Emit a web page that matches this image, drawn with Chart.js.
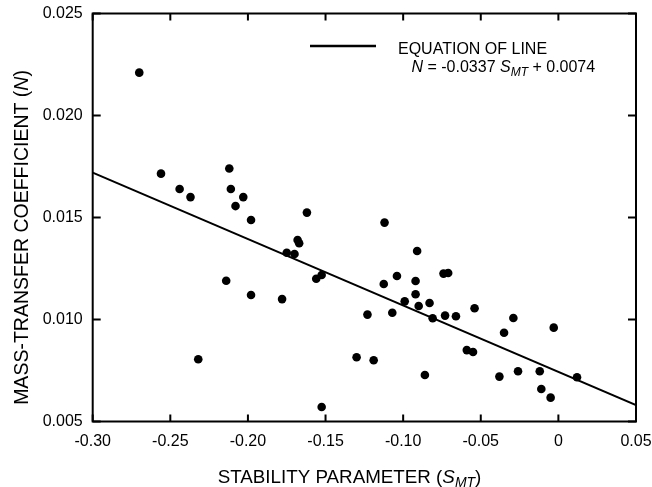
<!DOCTYPE html>
<html>
<head>
<meta charset="utf-8">
<script src="https://cdn.jsdelivr.net/npm/chart.js@4/dist/chart.umd.min.js"></script>
<style>
  body { margin: 0; background: #fff; }
  canvas { display: block; }
</style>
</head>
<body>
<canvas id="chart" width="652" height="487"></canvas>
<script>
const FONT = '"Liberation Sans", Arial, sans-serif'

// measured points (stability parameter, mass-transfer coefficient)
const stability = [
  -0.270, -0.256, -0.244, -0.237, -0.212, -0.211, -0.203, -0.208, -0.162, -0.198,
  -0.168, -0.167, -0.175, -0.170, -0.1525, -0.156, -0.214, -0.198, -0.178, -0.232,
  -0.130, -0.1525, -0.112, -0.091, -0.104, -0.1125, -0.092, -0.074, -0.071, -0.092,
  -0.099, -0.090, -0.083, -0.107, -0.123, -0.081, -0.073, -0.066, -0.054, -0.029,
  -0.003, -0.035, -0.059, -0.055, -0.119, -0.086, -0.038, -0.026, -0.012, 0.012,
  -0.011, -0.005
]
const massTransfer = [
  0.0221, 0.01715, 0.0164, 0.0160, 0.0174, 0.0164, 0.0160, 0.01556, 0.01524, 0.01488,
  0.0139, 0.01374, 0.01327, 0.01321, 0.01218, 0.0120, 0.0119, 0.0112, 0.0110, 0.00805,
  0.00815, 0.00571, 0.01475, 0.01336, 0.01213, 0.01174, 0.01189, 0.01225, 0.01228, 0.01124,
  0.01089, 0.01066, 0.01081, 0.01033, 0.01024, 0.01006, 0.01019, 0.01016, 0.01055, 0.01007,
  0.0096, 0.00935, 0.0085, 0.00841, 0.0080, 0.00728, 0.0072, 0.00746, 0.00746, 0.00717,
  0.00659, 0.00617
]

// fitted line, as drawn
const lineX = [-0.30, 0.05]
const lineY = [0.0172, 0.0058]

const xTickValues = [-0.30, -0.25, -0.20, -0.15, -0.10, -0.05, 0, 0.05]
const xTickLabels = ['-0.30', '-0.25', '-0.20', '-0.15', '-0.10', '-0.05', '0', '0.05']
const yTickValues = [0.005, 0.010, 0.015, 0.020, 0.025]
const yTickLabels = ['0.005', '0.010', '0.015', '0.020', '0.025']

const drawRich = (ctx, parts, x, y, align, size, subSize, subShift) => {
    const fontFor = p => (p.italic ? 'italic ' : '') + (p.sub ? subSize : size) + 'px ' + FONT
    let total = 0
    parts.forEach(p => { ctx.font = fontFor(p); total += ctx.measureText(p.t).width })
    let cx = align === 'center' ? x - total / 2 : x
    ctx.textAlign = 'left'
    ctx.textBaseline = 'alphabetic'
    parts.forEach(p => {
        ctx.font = fontFor(p)
        ctx.fillText(p.t, cx, y + (p.sub ? subShift : 0))
        cx += ctx.measureText(p.t).width
    })
}

const framePlugin = {
    id: 'frame',
    afterDraw(chart) {
        const ctx = chart.ctx
        const a = chart.chartArea
        const xs = chart.scales.x, ys = chart.scales.y
        ctx.save()
        ctx.strokeStyle = '#000'
        ctx.fillStyle = '#000'
        ctx.lineWidth = 2
        ctx.strokeRect(a.left, a.top, a.right - a.left, a.bottom - a.top)

        // inward ticks on all sides
        ctx.beginPath()
        xTickValues.forEach(v => {
            const px = xs.getPixelForValue(v)
            ctx.moveTo(px, a.bottom); ctx.lineTo(px, a.bottom - 7)
            ctx.moveTo(px, a.top); ctx.lineTo(px, a.top + 7)
        })
        yTickValues.forEach(v => {
            const py = ys.getPixelForValue(v)
            ctx.moveTo(a.left, py); ctx.lineTo(a.left + 8, py)
            ctx.moveTo(a.right, py); ctx.lineTo(a.right - 8, py)
        })
        ctx.stroke()

        // legend
        ctx.lineWidth = 2.5
        ctx.beginPath()
        ctx.moveTo(310, 46); ctx.lineTo(376, 46)
        ctx.stroke()
        drawRich(ctx, [{t: 'EQUATION OF LINE'}], 398, 53.5, 'left', 16, 12, 4)
        drawRich(ctx, [
            {t: 'N', italic: true}, {t: ' = -0.0337 '}, {t: 'S', italic: true},
            {t: 'MT', italic: true, sub: true}, {t: ' + 0.0074'}
        ], 411.5, 71.5, 'left', 16, 12, 4)

        // axis titles
        drawRich(ctx, [
            {t: 'STABILITY PARAMETER ('}, {t: 'S', italic: true},
            {t: 'MT', italic: true, sub: true}, {t: ')'}
        ], 349.5, 482.5, 'center', 18.8, 14, 4)

        ctx.translate(27.5, 237.5)
        ctx.rotate(-Math.PI / 2)
        drawRich(ctx, [
            {t: 'MASS-TRANSFER COEFFICIENT ('}, {t: 'N', italic: true}, {t: ')'}
        ], 0, 0, 'center', 19.5, 14, 4)
        ctx.restore()
    }
}

const points = stability.map((x, i) => ({x: x, y: massTransfer[i]}))
const fit = lineX.map((x, i) => ({x: x, y: lineY[i]}))

new Chart(document.getElementById('chart'), {
    type: 'scatter',
    data: {
        datasets: [{
            label: 'data',
            data: points,
            backgroundColor: '#000',
            borderColor: '#000',
            pointRadius: 4.3,
            pointBorderWidth: 0
        }, {
            type: 'line',
            label: 'fit',
            data: fit,
            borderColor: '#000',
            borderWidth: 2,
            pointRadius: 0,
            fill: false
        }]
    },
    options: {
        responsive: false,
        animation: false,
        layout: { padding: { top: 13.5, right: 16, left: 0, bottom: 0 } },
        plugins: { legend: { display: false }, tooltip: { enabled: false } },
        scales: {
            x: {
                type: 'linear',
                min: -0.30,
                max: 0.05,
                afterBuildTicks: s => { s.ticks = xTickValues.map(v => ({value: v})) },
                afterFit: s => { s.height = 65.5; s.paddingLeft = 0; s.paddingRight = 0 },
                grid: { display: false },
                border: { display: false },
                ticks: {
                    color: '#000',
                    padding: 2,
                    maxRotation: 0,
                    font: { family: FONT, size: 16 },
                    callback: (v, i) => xTickLabels[i]
                }
            },
            y: {
                type: 'linear',
                min: 0.005,
                max: 0.025,
                afterBuildTicks: s => { s.ticks = yTickValues.map(v => ({value: v})) },
                afterFit: s => { s.width = 92.7; s.paddingTop = 0; s.paddingBottom = 0 },
                grid: { display: false },
                border: { display: false },
                ticks: {
                    color: '#000',
                    padding: 2,
                    font: { family: FONT, size: 16 },
                    callback: (v, i) => yTickLabels[i]
                }
            }
        }
    },
    plugins: [framePlugin]
})
</script>
</body>
</html>
